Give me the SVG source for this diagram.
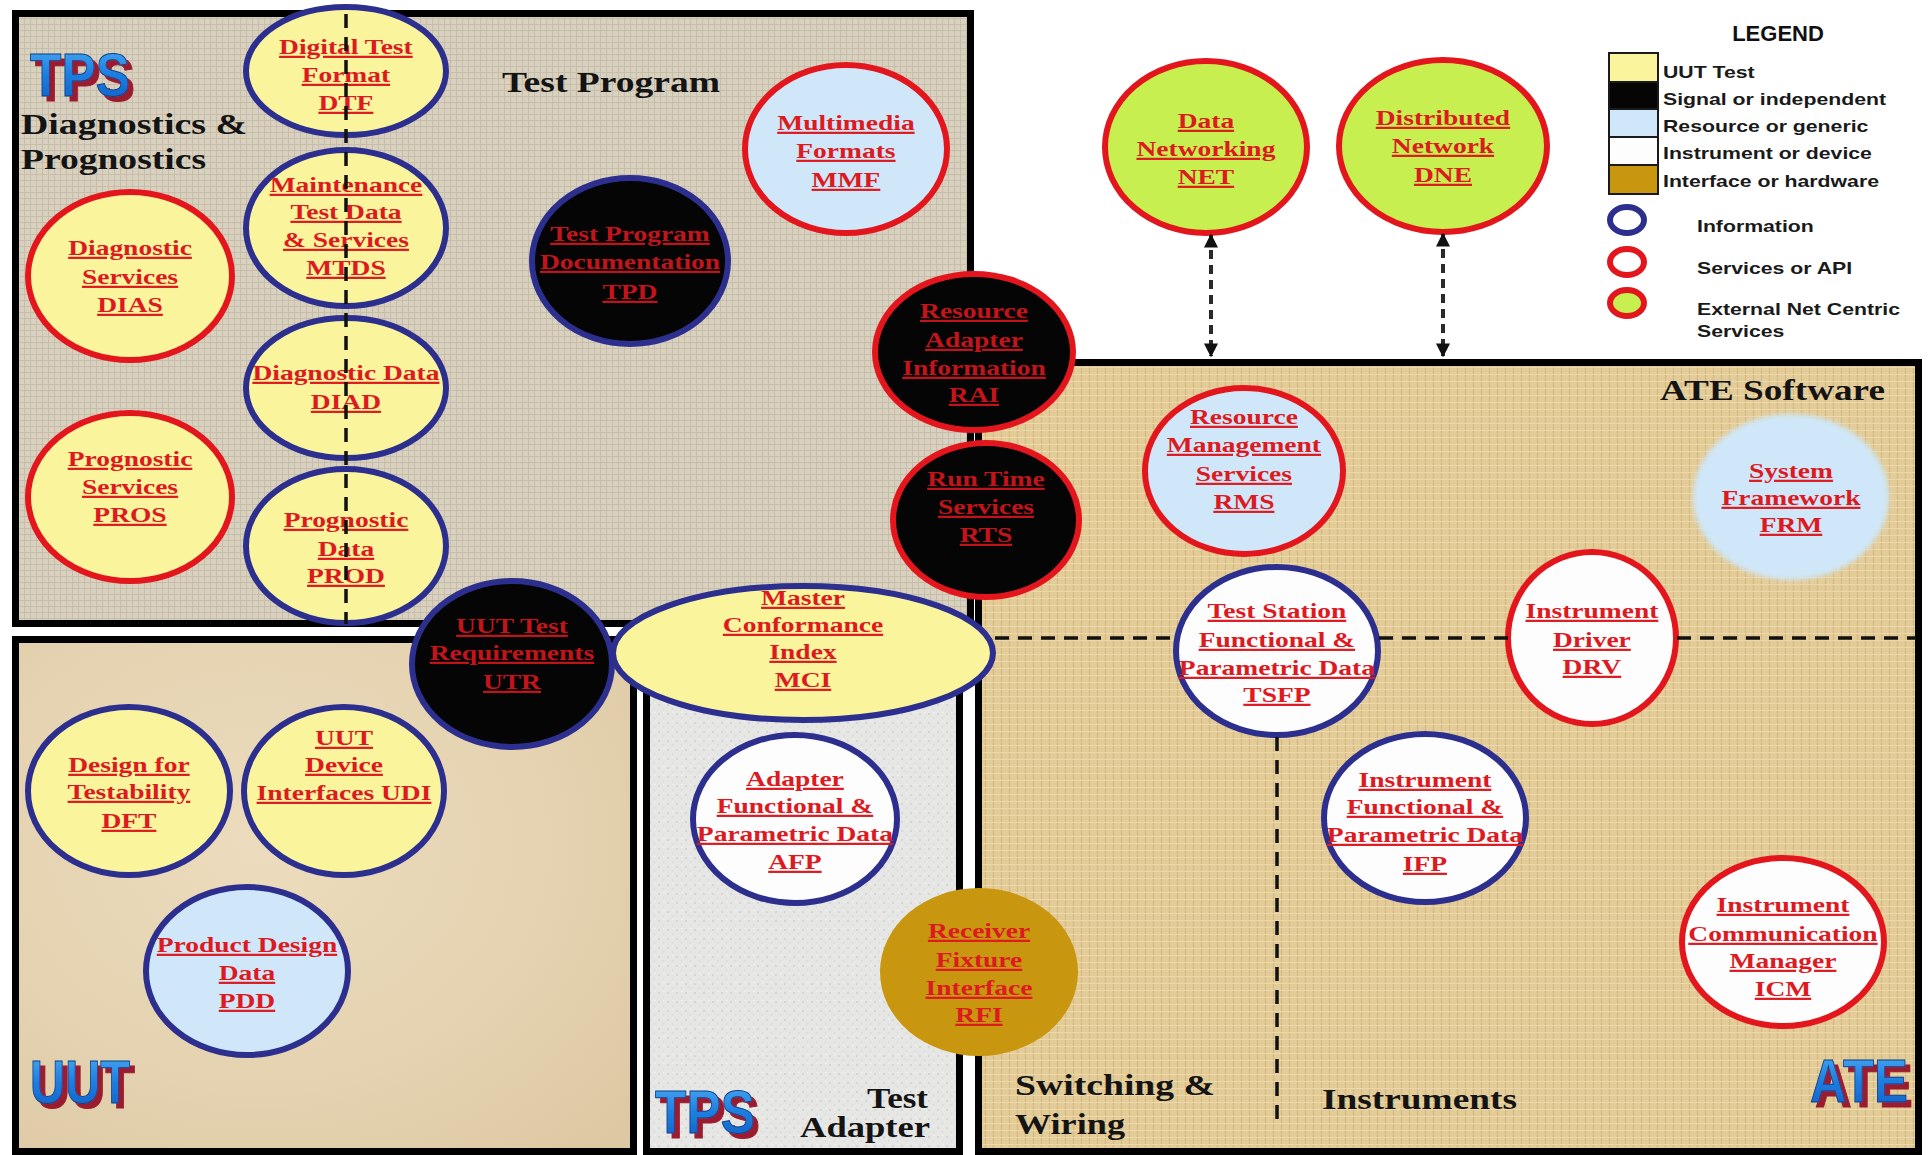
<svg xmlns="http://www.w3.org/2000/svg" width="1929" height="1155" viewBox="0 0 1929 1155">
<defs>
<style>
.panel{stroke:#000;stroke-width:7}
.info{stroke:#2d2f8f;stroke-width:6}
.svc{stroke:#e3161d;stroke-width:6}
.plain{stroke:none}
.yel{fill:#faf49c}
.blk{fill:#050505}
.lbl-blue{fill:#cfe7f8}
.wht{fill:#fdfdfd}
.grn{fill:#c6ef4f}
.gold{fill:#c8960f}
.lbl{font-family:"Liberation Serif","Times New Roman",serif;font-weight:bold;font-size:22px;fill:#dd1a1f;text-anchor:middle;text-decoration:underline;transform-box:fill-box;transform-origin:center;transform:scaleX(1.25)}
.dark .lbl{fill:#c3141b}
.head{font-family:"Liberation Serif","Times New Roman",serif;font-weight:bold;font-size:30px;fill:#141414}
.leg{font-family:"Liberation Sans",Arial,sans-serif;font-weight:bold;font-size:17px;fill:#1a1a1a;transform-box:fill-box;transform-origin:left center;transform:scaleX(1.25)}
.legtitle{font-family:"Liberation Sans",Arial,sans-serif;font-weight:bold;font-size:22px;fill:#111;text-anchor:middle}
.logo{font-family:"Liberation Sans",Arial,sans-serif;font-weight:bold;font-size:62px;fill:url(#logoBlue);stroke:#0b3f86;stroke-width:1;filter:url(#logoShadow)}
.dash{stroke:#111;stroke-width:3.5;stroke-dasharray:14 9;fill:none}
.link{stroke:#2a2a2a;stroke-width:4;stroke-dasharray:9 6;fill:none}
.swatch{stroke:#1a1a1a;stroke-width:2}
</style>
<linearGradient id="logoBlue" x1="0" y1="0" x2="0" y2="1">
<stop offset="0" stop-color="#4fb2f6"/>
<stop offset="0.5" stop-color="#1f7fe0"/>
<stop offset="1" stop-color="#0f5cc4"/>
</linearGradient>
<!-- dark red extruded shadow behind the blue logo letters -->
<filter id="logoShadow" x="-10%" y="-10%" width="130%" height="140%">
<feOffset in="SourceAlpha" dx="5" dy="5" result="off"/>
<feFlood flood-color="#9b1c2e"/>
<feComposite in2="off" operator="in" result="sh"/>
<feMerge><feMergeNode in="sh"/><feMergeNode in="SourceGraphic"/></feMerge>
</filter>
<filter id="soft" x="-10%" y="-10%" width="120%" height="120%">
<feGaussianBlur stdDeviation="2.5"/>
</filter>
<pattern id="weave" width="6" height="6" patternUnits="userSpaceOnUse">
<rect width="6" height="6" fill="#d9d1c0"/>
<path d="M0 0.5H6M0.5 0V6" stroke="#c7bda8" stroke-width="1"/>
</pattern>
<pattern id="burlap" width="8" height="7" patternUnits="userSpaceOnUse">
<rect width="8" height="7" fill="#e4cc98"/>
<path d="M1.5 0V7" stroke="#d4ba80" stroke-width="1.3"/>
<path d="M0 3.5H8" stroke="#ebd8ad" stroke-width="1"/>
</pattern>
<pattern id="speckle" width="9" height="9" patternUnits="userSpaceOnUse">
<rect width="9" height="9" fill="#e6e6e4"/>
<circle cx="2" cy="3" r="0.9" fill="#cfcfcc"/>
<circle cx="6.5" cy="7" r="0.8" fill="#d6d6d3"/>
<circle cx="7" cy="1.5" r="0.7" fill="#f5f5f3"/>
</pattern>
<radialGradient id="sand" cx="0.4" cy="0.4" r="0.8">
<stop offset="0" stop-color="#ecdcbd"/>
<stop offset="0.6" stop-color="#e4d2b0"/>
<stop offset="1" stop-color="#ddc8a3"/>
</radialGradient>
<marker id="ah" viewBox="0 0 10 10" refX="9" refY="5" markerUnits="userSpaceOnUse" markerWidth="14" markerHeight="14" orient="auto-start-reverse">
<path d="M0 0L10 5L0 10z" fill="#111"/>
</marker>
</defs>

<rect width="1929" height="1155" fill="#fff"/>

<!-- section panels -->
<g id="panels">
<rect id="panel-test-program" class="panel" x="15.5" y="13.5" width="955" height="610" fill="url(#weave)"/>
<rect id="panel-uut" class="panel" x="15.5" y="639.5" width="618" height="512" fill="url(#sand)"/>
<rect id="panel-test-adapter" class="panel" x="646.5" y="639.5" width="313" height="512" fill="url(#speckle)"/>
<rect id="panel-ate" class="panel" x="978.5" y="362.5" width="940" height="789" fill="url(#burlap)"/>
</g>

<!-- section titles and logos -->
<g id="titles">
<text class="head" x="502" y="92" textLength="218" lengthAdjust="spacingAndGlyphs">Test Program</text>
<text class="head" x="21" y="134" font-size="29" textLength="226" lengthAdjust="spacingAndGlyphs">Diagnostics &amp;</text>
<text class="head" x="21" y="169" font-size="29" textLength="185" lengthAdjust="spacingAndGlyphs">Prognostics</text>
<text class="head" x="1660" y="400" font-size="29" textLength="225" lengthAdjust="spacingAndGlyphs">ATE Software</text>
<text class="head" x="867" y="1108" font-size="29" textLength="61" lengthAdjust="spacingAndGlyphs">Test</text>
<text class="head" x="800" y="1137" font-size="29" textLength="130" lengthAdjust="spacingAndGlyphs">Adapter</text>
<text class="head" x="1015" y="1095" font-size="29" textLength="200" lengthAdjust="spacingAndGlyphs">Switching &amp;</text>
<text class="head" x="1015" y="1134" font-size="29" textLength="110" lengthAdjust="spacingAndGlyphs">Wiring</text>
<text class="head" x="1322" y="1109" font-size="29" textLength="195" lengthAdjust="spacingAndGlyphs">Instruments</text>
</g>
<g id="logos">
<text id="logo-tps-top" class="logo" x="30" y="95.5" font-size="58" textLength="100" lengthAdjust="spacingAndGlyphs">TPS</text>
<text id="logo-uut" class="logo" x="30" y="1103" textLength="100" lengthAdjust="spacingAndGlyphs">UUT</text>
<text id="logo-tps-adapter" class="logo" x="655" y="1133" textLength="100" lengthAdjust="spacingAndGlyphs">TPS</text>
<text id="logo-ate" class="logo" x="1810" y="1102" textLength="98" lengthAdjust="spacingAndGlyphs">ATE</text>
</g>

<!-- nodes -->
<g id="nodes">
<g id="node-dtf">
<ellipse class="yel info" cx="346" cy="71" rx="100" ry="64"/>
<text class="lbl"><tspan x="346" y="54">Digital Test</tspan><tspan x="346" y="82">Format</tspan><tspan x="346" y="110">DTF</tspan></text>
</g>
<g id="node-mtds">
<ellipse class="yel info" cx="346" cy="228" rx="100" ry="78"/>
<text class="lbl"><tspan x="346" y="192">Maintenance</tspan><tspan x="346" y="219">Test Data</tspan><tspan x="346" y="247">&amp; Services</tspan><tspan x="346" y="275">MTDS</tspan></text>
</g>
<g id="node-diad">
<ellipse class="yel info" cx="346" cy="388" rx="100" ry="70"/>
<text class="lbl"><tspan x="346" y="380">Diagnostic Data</tspan><tspan x="346" y="409">DIAD</tspan></text>
</g>
<g id="node-prod">
<ellipse class="yel info" cx="346" cy="546" rx="100" ry="77"/>
<text class="lbl"><tspan x="346" y="527">Prognostic</tspan><tspan x="346" y="556">Data</tspan><tspan x="346" y="583">PROD</tspan></text>
</g>
<g id="node-dias">
<ellipse class="yel svc" cx="130" cy="276" rx="102" ry="84"/>
<text class="lbl"><tspan x="130" y="255">Diagnostic</tspan><tspan x="130" y="284">Services</tspan><tspan x="130" y="312">DIAS</tspan></text>
</g>
<g id="node-pros">
<ellipse class="yel svc" cx="130" cy="497" rx="102" ry="84"/>
<text class="lbl"><tspan x="130" y="466">Prognostic</tspan><tspan x="130" y="494">Services</tspan><tspan x="130" y="522">PROS</tspan></text>
</g>
<g id="node-tpd" class="dark">
<ellipse class="blk info" cx="630" cy="261" rx="98" ry="83"/>
<text class="lbl"><tspan x="630" y="241">Test Program</tspan><tspan x="630" y="269">Documentation</tspan><tspan x="630" y="299">TPD</tspan></text>
</g>
<g id="node-mmf">
<ellipse class="lbl-blue svc" cx="846" cy="149" rx="101" ry="84"/>
<text class="lbl"><tspan x="846" y="130">Multimedia</tspan><tspan x="846" y="158">Formats</tspan><tspan x="846" y="187">MMF</tspan></text>
</g>
<g id="node-net">
<ellipse class="grn svc" cx="1206" cy="147" rx="101" ry="86"/>
<text class="lbl"><tspan x="1206" y="128">Data</tspan><tspan x="1206" y="156">Networking</tspan><tspan x="1206" y="184">NET</tspan></text>
</g>
<g id="node-dne">
<ellipse class="grn svc" cx="1443" cy="146" rx="104" ry="86"/>
<text class="lbl"><tspan x="1443" y="125">Distributed</tspan><tspan x="1443" y="153">Network</tspan><tspan x="1443" y="182">DNE</tspan></text>
</g>
<g id="node-dft">
<ellipse class="yel info" cx="129" cy="791" rx="101" ry="84"/>
<text class="lbl"><tspan x="129" y="772">Design for</tspan><tspan x="129" y="799">Testability</tspan><tspan x="129" y="828">DFT</tspan></text>
</g>
<g id="node-udi">
<ellipse class="yel info" cx="344" cy="791" rx="100" ry="84"/>
<text class="lbl"><tspan x="344" y="745">UUT</tspan><tspan x="344" y="772">Device</tspan><tspan x="344" y="800">Interfaces UDI</tspan></text>
</g>
<g id="node-pdd">
<ellipse class="lbl-blue info" cx="247" cy="971" rx="101" ry="84"/>
<text class="lbl"><tspan x="247" y="952">Product Design</tspan><tspan x="247" y="980">Data</tspan><tspan x="247" y="1008">PDD</tspan></text>
</g>
<g id="node-utr" class="dark">
<ellipse class="blk info" cx="512" cy="664" rx="100" ry="83"/>
<text class="lbl"><tspan x="512" y="633">UUT Test</tspan><tspan x="512" y="660">Requirements</tspan><tspan x="512" y="689">UTR</tspan></text>
</g>
<g id="node-mci">
<ellipse class="yel info" cx="803" cy="653" rx="190" ry="67"/>
<text class="lbl"><tspan x="803" y="605">Master</tspan><tspan x="803" y="632">Conformance</tspan><tspan x="803" y="659">Index</tspan><tspan x="803" y="687">MCI</tspan></text>
</g>
<g id="node-afp">
<ellipse class="wht info" cx="795" cy="819" rx="102" ry="84"/>
<text class="lbl"><tspan x="795" y="786">Adapter</tspan><tspan x="795" y="813">Functional &amp;</tspan><tspan x="795" y="841">Parametric Data</tspan><tspan x="795" y="869">AFP</tspan></text>
</g>
<g id="node-rfi">
<ellipse class="gold plain" cx="979" cy="972" rx="99" ry="84"/>
<text class="lbl"><tspan x="979" y="938">Receiver</tspan><tspan x="979" y="967">Fixture</tspan><tspan x="979" y="995">Interface</tspan><tspan x="979" y="1022">RFI</tspan></text>
</g>
<g id="node-rms">
<ellipse class="lbl-blue svc" cx="1244" cy="471" rx="99" ry="83"/>
<text class="lbl"><tspan x="1244" y="424">Resource</tspan><tspan x="1244" y="452">Management</tspan><tspan x="1244" y="481">Services</tspan><tspan x="1244" y="509">RMS</tspan></text>
</g>
<g id="node-frm">
<ellipse class="lbl-blue plain" cx="1791" cy="497" rx="98" ry="83" filter="url(#soft)"/>
<text class="lbl"><tspan x="1791" y="478">System</tspan><tspan x="1791" y="505">Framework</tspan><tspan x="1791" y="532">FRM</tspan></text>
</g>
<g id="node-tsfp">
<ellipse class="wht info" cx="1277" cy="651" rx="101" ry="84"/>
<text class="lbl"><tspan x="1277" y="618">Test Station</tspan><tspan x="1277" y="647">Functional &amp;</tspan><tspan x="1277" y="675">Parametric Data</tspan><tspan x="1277" y="702">TSFP</tspan></text>
</g>
<g id="node-drv">
<ellipse class="wht svc" cx="1592" cy="638" rx="84" ry="86"/>
<text class="lbl"><tspan x="1592" y="618">Instrument</tspan><tspan x="1592" y="647">Driver</tspan><tspan x="1592" y="674">DRV</tspan></text>
</g>
<g id="node-ifp">
<ellipse class="wht info" cx="1425" cy="818" rx="101" ry="84"/>
<text class="lbl"><tspan x="1425" y="787">Instrument</tspan><tspan x="1425" y="814">Functional &amp;</tspan><tspan x="1425" y="842">Parametric Data</tspan><tspan x="1425" y="871">IFP</tspan></text>
</g>
<g id="node-icm">
<ellipse class="wht svc" cx="1783" cy="942" rx="101" ry="84"/>
<text class="lbl"><tspan x="1783" y="912">Instrument</tspan><tspan x="1783" y="941">Communication</tspan><tspan x="1783" y="968">Manager</tspan><tspan x="1783" y="996">ICM</tspan></text>
</g>
<g id="node-rai" class="dark">
<ellipse class="blk svc" cx="974" cy="352" rx="99" ry="78"/>
<text class="lbl"><tspan x="974" y="318">Resource</tspan><tspan x="974" y="347">Adapter</tspan><tspan x="974" y="375">Information</tspan><tspan x="974" y="402">RAI</tspan></text>
</g>
<g id="node-rts" class="dark">
<ellipse class="blk svc" cx="986" cy="520" rx="93" ry="77"/>
<text class="lbl"><tspan x="986" y="486">Run Time</tspan><tspan x="986" y="514">Services</tspan><tspan x="986" y="542">RTS</tspan></text>
</g>
</g>

<!-- dashed dividers and links -->
<g id="connectors">
<line class="dash" x1="346" y1="14" x2="346" y2="624"/>
<line class="dash" x1="995" y1="638" x2="1175" y2="638"/>
<line class="dash" x1="1379" y1="638" x2="1508" y2="638"/>
<line class="dash" x1="1677" y1="638" x2="1916" y2="638"/>
<line class="dash" x1="1277" y1="737" x2="1277" y2="1122"/>
<line id="link-net" class="link" x1="1211" y1="235" x2="1211" y2="356" marker-start="url(#ah)" marker-end="url(#ah)"/>
<line id="link-dne" class="link" x1="1443" y1="234" x2="1443" y2="356" marker-start="url(#ah)" marker-end="url(#ah)"/>
</g>

<!-- legend -->
<g id="legend">
<text class="legtitle" x="1778" y="41">LEGEND</text>
<rect class="swatch" x="1609" y="53" width="49" height="29" fill="#faf49c"/>
<rect class="swatch" x="1609" y="82" width="49" height="27" fill="#050505"/>
<rect class="swatch" x="1609" y="109" width="49" height="28" fill="#cfe7f8"/>
<rect class="swatch" x="1609" y="137" width="49" height="28" fill="#fdfdfd"/>
<rect class="swatch" x="1609" y="165" width="49" height="29" fill="#c8960f"/>
<text class="leg" x="1663" y="78">UUT Test</text>
<text class="leg" x="1663" y="105">Signal  or independent</text>
<text class="leg" x="1663" y="132">Resource or generic</text>
<text class="leg" x="1663" y="159">Instrument or device</text>
<text class="leg" x="1663" y="187">Interface or hardware</text>
<ellipse cx="1627" cy="220" rx="17" ry="13" fill="#fff" stroke="#2d2f8f" stroke-width="6"/>
<ellipse cx="1627" cy="262" rx="17" ry="13" fill="#fff" stroke="#e3161d" stroke-width="6"/>
<ellipse cx="1627" cy="303" rx="17" ry="13" fill="#c6ef4f" stroke="#e3161d" stroke-width="6"/>
<text class="leg" x="1697" y="232">Information</text>
<text class="leg" x="1697" y="274">Services  or API</text>
<text class="leg" x="1697" y="315">External Net Centric</text>
<text class="leg" x="1697" y="337">Services</text>
</g>
</svg>
